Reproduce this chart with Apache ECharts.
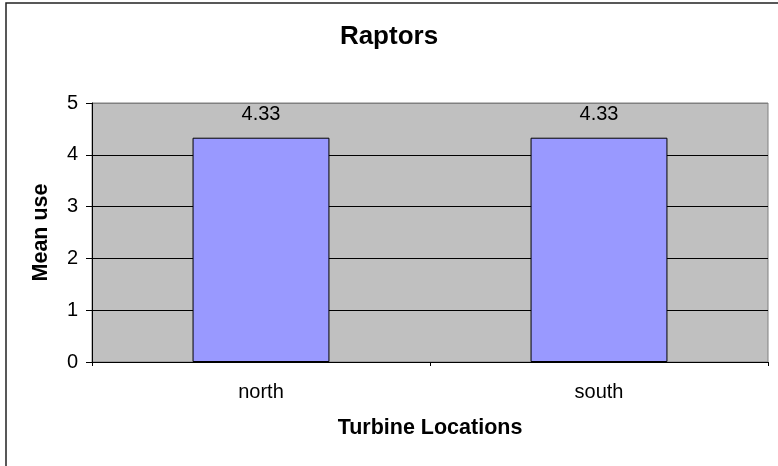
<!DOCTYPE html>
<html>
<head>
<meta charset="utf-8">
<script src="https://cdn.jsdelivr.net/npm/echarts@6/dist/echarts.min.js"></script>
<style>
    html, body { margin: 0; padding: 0; background: #fff; }
    #raptors { width: 778px; height: 466px; }
</style>
</head>
<body>
<div id="raptors"></div>
<script>
    //类目
    let locations = ['north', 'south'];
    //平均值
    let meanUse = [4.33, 4.33];
    //纵轴刻度
    let yTicks = [0, 1, 2, 3, 4, 5];

    let myChart = echarts.init(document.getElementById('raptors'));

    let fontName = 'Liberation Sans, Arial, sans-serif';

    let option = {
        animation: false,
        backgroundColor: '#fff',
        //标题
        title: {
            text: 'Raptors',
            left: 'center',
            top: 24,
            padding: 0,
            textStyle: {
                fontFamily: fontName,
                fontSize: 26,
                fontWeight: 'bold',
                color: '#000'
            }
        },
        //外边框
        graphic: [{
            type: 'rect',
            shape: {x: 6, y: 3, width: 800, height: 500},
            style: {fill: 'none', stroke: '#222', lineWidth: 1.5},
            silent: true
        }],
        //绘图区
        grid: {
            show: true,
            left: 92,
            top: 103,
            right: 10,
            bottom: 104,
            backgroundColor: '#C0C0C0',
            borderColor: '#808080',
            borderWidth: 1
        },
        xAxis: {
            type: 'category',
            data: locations,
            name: 'Turbine Locations',
            nameLocation: 'middle',
            nameGap: 55,
            nameTextStyle: {
                fontFamily: fontName,
                fontSize: 21.5,
                fontWeight: 'bold',
                color: '#000'
            },
            axisLine: {show: true, lineStyle: {color: '#000', width: 1}},
            axisTick: {show: true, length: 4, alignWithLabel: false, lineStyle: {color: '#000'}},
            axisLabel: {
                margin: 20,
                fontFamily: fontName,
                fontSize: 20,
                color: '#000'
            }
        },
        yAxis: {
            type: 'value',
            min: yTicks[0],
            max: yTicks[yTicks.length - 1],
            interval: 1,
            name: 'Mean use',
            nameLocation: 'middle',
            nameRotate: 90,
            nameGap: 40,
            nameTextStyle: {
                fontFamily: fontName,
                fontSize: 21.5,
                fontWeight: 'bold',
                color: '#000'
            },
            axisLine: {show: true, lineStyle: {color: '#000', width: 1}},
            axisTick: {show: true, length: 6, lineStyle: {color: '#000'}},
            axisLabel: {
                margin: 14,
                fontFamily: fontName,
                fontSize: 20,
                color: '#000'
            },
            splitLine: {
                show: true,
                lineStyle: {color: ['#000', '#000', '#000', '#000', '#000', '#808080'], width: 1}
            }
        },
        series: [{
            type: 'bar',
            data: meanUse,
            barWidth: '40.5%',
            itemStyle: {
                color: '#9999FF',
                borderColor: '#000',
                borderWidth: 1
            },
            label: {
                show: true,
                position: 'top',
                distance: 13,
                fontFamily: fontName,
                fontSize: 20,
                color: '#000',
                formatter: function (params) {
                    return params.value.toFixed(2);
                }
            }
        }]
    };

    myChart.setOption(option);
</script>
</body>
</html>
